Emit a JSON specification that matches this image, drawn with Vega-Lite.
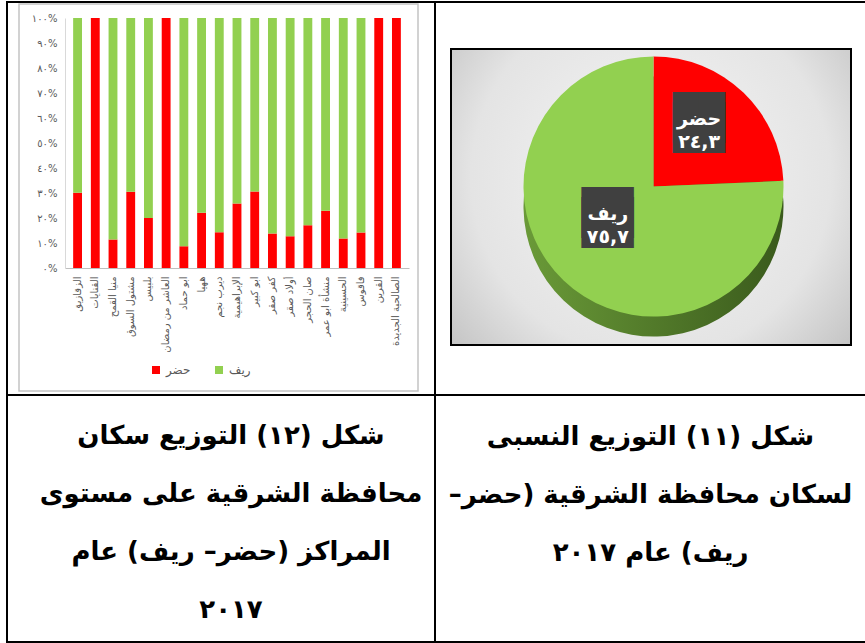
{
  "$schema": "https://vega.github.io/schema/vega-lite/v6.json",
  "padding": {"left": 5, "top": 1, "right": 0, "bottom": 0},
  "background": "white",
  "columns": 2,
  "spacing": 0,
  "bounds": "flush",
  "config": {
    "view": {"stroke": "black", "strokeWidth": 2},
    "font": "DejaVu Sans",
    "concat": {"spacing": 0}
  },
  "datasets": {
    "centers": [
      {"center": "الزقازيق", "type": "حضر", "pct": 30.1}, {"center": "الزقازيق", "type": "ريف", "pct": 69.9},
      {"center": "القنايات", "type": "حضر", "pct": 100}, {"center": "القنايات", "type": "ريف", "pct": 0},
      {"center": "منيا القمح", "type": "حضر", "pct": 11.4}, {"center": "منيا القمح", "type": "ريف", "pct": 88.6},
      {"center": "مشتول السوق", "type": "حضر", "pct": 30.5}, {"center": "مشتول السوق", "type": "ريف", "pct": 69.5},
      {"center": "بلبيس", "type": "حضر", "pct": 20.0}, {"center": "بلبيس", "type": "ريف", "pct": 80.0},
      {"center": "العاشر من رمضان", "type": "حضر", "pct": 100}, {"center": "العاشر من رمضان", "type": "ريف", "pct": 0},
      {"center": "ابو حماد", "type": "حضر", "pct": 8.7}, {"center": "ابو حماد", "type": "ريف", "pct": 91.3},
      {"center": "ههيا", "type": "حضر", "pct": 22.1}, {"center": "ههيا", "type": "ريف", "pct": 77.9},
      {"center": "ديرب نجم", "type": "حضر", "pct": 14.3}, {"center": "ديرب نجم", "type": "ريف", "pct": 85.7},
      {"center": "الإبراهيمية", "type": "حضر", "pct": 25.8}, {"center": "الإبراهيمية", "type": "ريف", "pct": 74.2},
      {"center": "ابو كبير", "type": "حضر", "pct": 30.6}, {"center": "ابو كبير", "type": "ريف", "pct": 69.4},
      {"center": "كفر صقر", "type": "حضر", "pct": 13.8}, {"center": "كفر صقر", "type": "ريف", "pct": 86.2},
      {"center": "أولاد صقر", "type": "حضر", "pct": 12.7}, {"center": "أولاد صقر", "type": "ريف", "pct": 87.3},
      {"center": "صان الحجر", "type": "حضر", "pct": 17.1}, {"center": "صان الحجر", "type": "ريف", "pct": 82.9},
      {"center": "منشأة ابو عمر", "type": "حضر", "pct": 22.9}, {"center": "منشأة ابو عمر", "type": "ريف", "pct": 77.1},
      {"center": "الحسينية", "type": "حضر", "pct": 11.8}, {"center": "الحسينية", "type": "ريف", "pct": 88.2},
      {"center": "فاقوس", "type": "حضر", "pct": 14.2}, {"center": "فاقوس", "type": "ريف", "pct": 85.8},
      {"center": "القرين", "type": "حضر", "pct": 100}, {"center": "القرين", "type": "ريف", "pct": 0},
      {"center": "الصالحية الجديدة", "type": "حضر", "pct": 100}, {"center": "الصالحية الجديدة", "type": "ريف", "pct": 0}
    ],
    "pie": [
      {"type": "حضر", "value": 24.3, "label": "حضر\n٢٤,٣"},
      {"type": "ريف", "value": 75.7, "label": "ريف\n٧٥,٧"}
    ]
  },
  "concat": [
    {
      "width": 428,
      "height": 393,
      "layer": [
        {
          "data": {"values": [{}]},
          "mark": {"type": "rect", "fill": null, "stroke": "#c4c4c4", "strokeWidth": 1.5},
          "encoding": {
            "x": {"datum": 0, "type": "quantitative", "scale": {"domain": [0, 1], "range": [12, 411]}, "axis": null},
            "x2": {"datum": 1},
            "y": {"datum": 0, "type": "quantitative", "scale": {"domain": [0, 1], "range": [2, 389]}, "axis": null},
            "y2": {"datum": 1}
          }
        },
        {
          "data": {"name": "centers"},
          "mark": {"type": "bar"},
          "encoding": {
            "x": {
              "field": "center", "type": "nominal", "sort": null,
              "scale": {"range": [58, 402], "paddingInner": 0.5, "paddingOuter": 0.46},
              "axis": {"title": null, "orient": "bottom", "offset": -127, "labelAngle": -90, "labelFontSize": 10, "labelColor": "#595959", "labelPadding": 8, "ticks": false, "domainColor": "#bfbfbf", "labelLimit": 200}
            },
            "y": {
              "field": "pct", "type": "quantitative", "stack": "normalize",
              "scale": {"domain": [0, 1], "range": [266, 16]},
              "axis": {
                "title": null, "offset": -58, "values": [0, 0.1, 0.2, 0.3, 0.4, 0.5, 0.6, 0.7, 0.8, 0.9, 1],
                "labelExpr": "['٠%','١٠%','٢٠%','٣٠%','٤٠%','٥٠%','٦٠%','٧٠%','٨٠%','٩٠%','١٠٠%'][round(datum.value*10)]",
                "labelFontSize": 10, "labelColor": "#595959", "ticks": false, "domainColor": "#d9d9d9", "gridColor": "#e0e0e0", "labelPadding": 8
              }
            },
            "order": {"field": "type", "type": "ordinal", "sort": "ascending"},
            "color": {
              "field": "type", "type": "nominal",
              "scale": {"domain": ["حضر", "ريف"], "range": ["#ff0000", "#92d050"]},
              "legend": {"title": null, "orient": "none", "legendX": 143, "legendY": 362, "direction": "horizontal", "symbolType": "square", "symbolSize": 64, "labelFontSize": 12, "labelColor": "#595959", "columnPadding": 22, "symbolStrokeWidth": 0}
            }
          }
        }
      ],
      "resolve": {"scale": {"x": "independent", "y": "independent"}}
    },
    {
      "width": 433,
      "height": 393,
      "layer": [
        {
          "data": {"values": [{}]},
          "mark": {
            "type": "rect", "stroke": "black", "strokeWidth": 2,
            "fill": {"gradient": "radial", "x1": 0.5, "y1": 0.45, "r1": 0, "x2": 0.5, "y2": 0.45, "r2": 0.75,
              "stops": [{"offset": 0, "color": "#f6f6f6"}, {"offset": 0.6, "color": "#e4e4e4"}, {"offset": 1, "color": "#b5b5b5"}]}
          },
          "encoding": {
            "x": {"datum": 0, "type": "quantitative", "scale": {"domain": [0, 1], "range": [16, 416]}, "axis": null},
            "x2": {"datum": 1},
            "y": {"datum": 0, "type": "quantitative", "scale": {"domain": [0, 1], "range": [47, 343]}, "axis": null},
            "y2": {"datum": 1}
          }
        },
        {
          "data": {"name": "pie"},
          "mark": {
            "type": "arc", "outerRadius": 130, "yOffset": 8, "xOffset": 2,
            "fill": {"gradient": "linear", "x1": 0, "y1": 0, "x2": 1, "y2": 0,
              "stops": [{"offset": 0, "color": "#6a9a38"}, {"offset": 1, "color": "#3a5a1c"}]}
          },
          "encoding": {
            "theta": {"field": "value", "type": "quantitative", "stack": true},
            "detail": {"field": "type"}
          }
        },
        {
          "data": {"name": "pie"},
          "mark": {"type": "arc", "outerRadius": 130, "yOffset": -12, "xOffset": 2},
          "encoding": {
            "theta": {"field": "value", "type": "quantitative", "stack": true},
            "color": {"field": "type", "type": "nominal", "scale": {"domain": ["حضر", "ريف"], "range": ["#ff0000", "#92d050"]}, "legend": null}
          }
        },
        {
          "data": {"name": "pie"},
          "mark": {"type": "text", "radius": 66, "yOffset": -32, "xOffset": 2, "text": "██\n██", "lineBreak": "\n", "lineHeight": 10, "font": "DejaVu Sans Mono", "fontSize": 43, "fill": "#404040", "baseline": "middle"},
          "encoding": {
            "theta": {"field": "value", "type": "quantitative", "stack": true},
            "detail": {"field": "type"}
          }
        },
        {
          "data": {"name": "pie"},
          "mark": {"type": "text", "radius": 66, "yOffset": -32, "xOffset": 2, "lineBreak": "\n", "lineHeight": 23, "fontSize": 19, "fontWeight": "bold", "fill": "white", "baseline": "middle"},
          "encoding": {
            "theta": {"field": "value", "type": "quantitative", "stack": true},
            "detail": {"field": "type"},
            "text": {"field": "label"}
          }
        }
      ],
      "resolve": {"scale": {"x": "independent", "y": "independent"}}
    },
    {
      "width": 428,
      "height": 247,
      "layer": [
        {
          "data": {"values": [{}]},
          "mark": {"type": "rect", "fill": null, "stroke": "black", "strokeWidth": 2},
          "encoding": {
            "x": {"datum": 0, "type": "quantitative", "scale": {"domain": [0, 1]}, "axis": null},
            "x2": {"datum": 1},
            "y": {"datum": 0, "type": "quantitative", "scale": {"domain": [0, 1]}, "axis": null},
            "y2": {"datum": 1}
          }
        },
        {
          "data": {"values": [{"caption": "شكل (١٢) التوزيع سكان\nمحافظة الشرقية على مستوى\nالمراكز (حضر– ريف) عام\n٢٠١٧"}]},
          "mark": {"type": "text", "fontSize": 26, "fontWeight": "bold", "lineHeight": 58, "lineBreak": "\n", "dx": 10, "dy": -83, "baseline": "middle", "color": "black"},
          "encoding": {"text": {"field": "caption"}}
        }
      ]
    },
    {
      "width": 433,
      "height": 247,
      "layer": [
        {
          "data": {"values": [{}]},
          "mark": {"type": "rect", "fill": null, "stroke": "black", "strokeWidth": 2},
          "encoding": {
            "x": {"datum": 0, "type": "quantitative", "scale": {"domain": [0, 1]}, "axis": null},
            "x2": {"datum": 1},
            "y": {"datum": 0, "type": "quantitative", "scale": {"domain": [0, 1]}, "axis": null},
            "y2": {"datum": 1}
          }
        },
        {
          "data": {"values": [{"caption": "شكل (١١) التوزيع النسبى\nلسكان محافظة الشرقية (حضر–‏\nريف) عام ٢٠١٧"}]},
          "mark": {"type": "text", "fontSize": 26, "fontWeight": "bold", "lineHeight": 58, "lineBreak": "\n", "dx": -1, "dy": -82, "baseline": "middle", "color": "black"},
          "encoding": {"text": {"field": "caption"}}
        }
      ]
    }
  ]
}
